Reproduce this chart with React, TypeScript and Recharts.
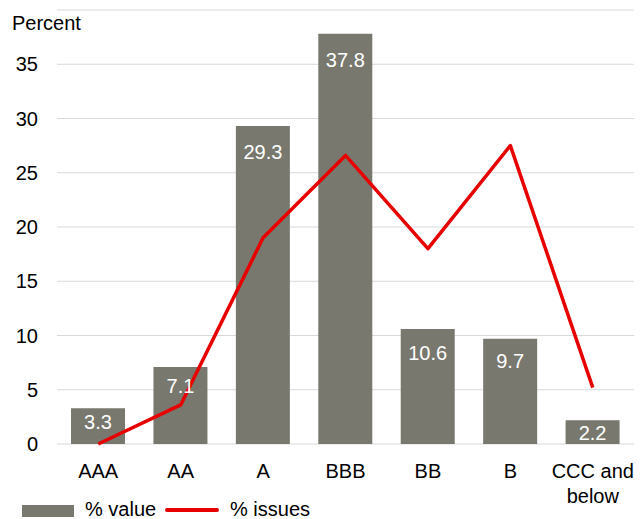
import { ComposedChart, Bar, Line, XAxis, YAxis, CartesianGrid, LabelList, Legend, Text } from 'recharts';

const ratings = ['AAA', 'AA', 'A', 'BBB', 'BB', 'B', 'CCC and below'];
const valueShare = [3.3, 7.1, 29.3, 37.8, 10.6, 9.7, 2.2];
const issuesShare = [0, 3.6, 19.0, 26.6, 18.0, 27.5, 5.2];
const yTicks = [0, 5, 10, 15, 20, 25, 30, 35];

const FONT = '"Liberation Sans", Arial, sans-serif';
const BAR_COLOR = '#78786e';
const LINE_COLOR = '#e60000';

const chartData = ratings.map((rating, i) => ({
  rating,
  value: valueShare[i],
  issues: issuesShare[i],
}));

// x-axis labels wrap onto two lines like "CCC and / below"
function RatingTick(props: any) {
  const { x, y, payload } = props;
  return (
    <Text
      x={x}
      y={y}
      width={90}
      textAnchor="middle"
      verticalAnchor="start"
      lineHeight={25}
      fontSize={20}
      fontFamily={FONT}
      fill="#000"
      style={{ fontSize: 20, fontFamily: FONT }}
    >
      {payload.value}
    </Text>
  );
}

// value label sits near the top inside the bar, a bit lower for tall bars
function InsideLabel(props: any) {
  const { x, y, width, height, value } = props;
  const offset = Math.min(26, 10 + height * 0.12);
  return (
    <text
      x={x + width / 2}
      y={y + offset}
      textAnchor="middle"
      dominantBaseline="central"
      fill="#fff"
      fontSize={20}
      fontFamily={FONT}
    >
      {value}
    </text>
  );
}

function PercentLabel() {
  return (
    <text x={12} y={30} fontSize={20} fontFamily={FONT} fill="#000">
      Percent
    </text>
  );
}

function ChartLegend() {
  return (
    <div style={{ height: 24, position: 'relative', fontFamily: FONT, fontSize: 20, color: '#000' }}>
      <div style={{ position: 'absolute', left: 22, top: 10, width: 52, height: 12, background: BAR_COLOR }} />
      <span style={{ position: 'absolute', left: 85, top: 5, lineHeight: '18px' }}>% value</span>
      <div style={{ position: 'absolute', left: 165, top: 13, width: 54, height: 4, background: LINE_COLOR, borderRadius: 2 }} />
      <span style={{ position: 'absolute', left: 230, top: 5, lineHeight: '18px' }}>% issues</span>
    </div>
  );
}

export default function App() {
  return (
    <div style={{ position: 'absolute', left: 0, top: 0 }}>
      <ComposedChart
        width={641}
        height={519}
        data={chartData}
        margin={{ top: 10, right: 7, left: 0, bottom: 0 }}
        barCategoryGap="17%"
      >
        <CartesianGrid vertical={false} stroke="#d9d9d9" strokeWidth={1} />
        <XAxis
          dataKey="rating"
          axisLine={false}
          tickLine={false}
          tickSize={0}
          tickMargin={20}
          height={51}
          interval={0}
          tick={<RatingTick />}
        />
        <YAxis
          domain={[0, 40]}
          ticks={yTicks}
          width={57}
          axisLine={false}
          tickLine={false}
          tickSize={0}
          tickMargin={19}
          tick={{ fontSize: 20, fontFamily: FONT, fill: '#000' }}
          label={<PercentLabel />}
        />
        <Legend verticalAlign="bottom" align="left" content={<ChartLegend />} wrapperStyle={{ left: 0, width: 641 }} />
        <Bar dataKey="value" name="% value" fill={BAR_COLOR} isAnimationActive={false}>
          <LabelList dataKey="value" content={<InsideLabel />} />
        </Bar>
        <Line
          type="linear"
          dataKey="issues"
          name="% issues"
          stroke={LINE_COLOR}
          strokeWidth={3.5}
          strokeLinejoin="round"
          dot={false}
          activeDot={false}
          isAnimationActive={false}
        />
      </ComposedChart>
    </div>
  );
}
